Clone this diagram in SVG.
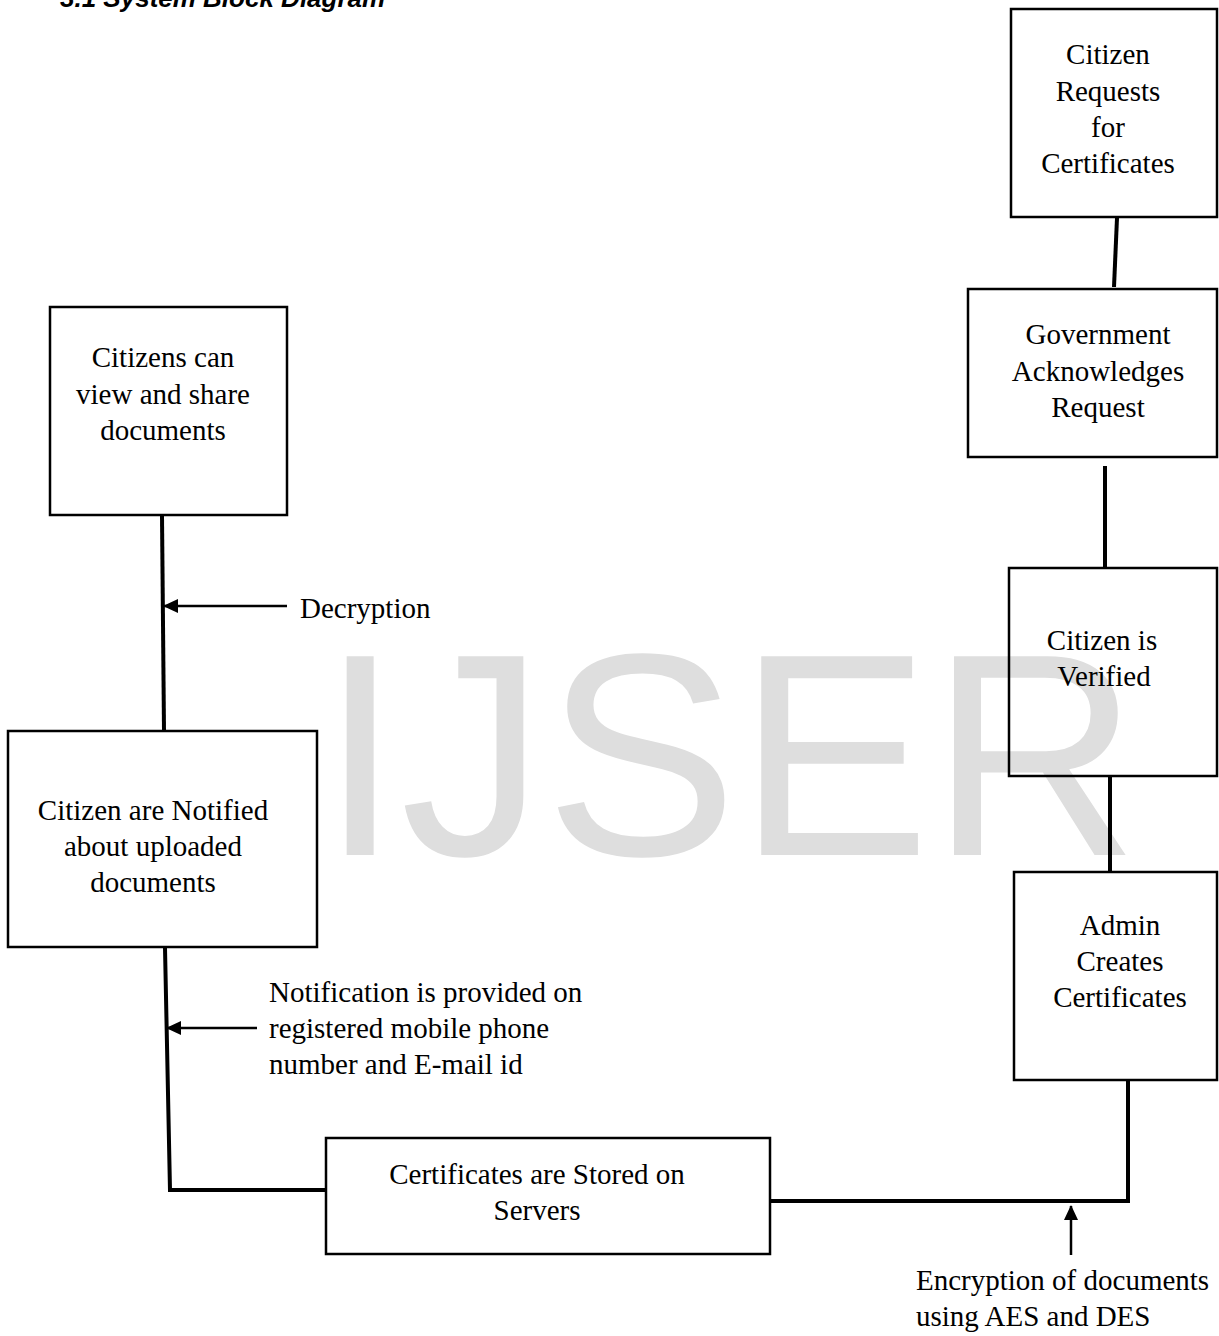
<svg xmlns="http://www.w3.org/2000/svg" width="1219" height="1336" viewBox="0 0 1219 1336">
<defs>
<style>
.box{fill:none;stroke:#000;stroke-width:2.5}
.t{font-family:"Liberation Serif","Times New Roman",serif;font-size:29px;fill:#000;text-anchor:middle}
.l{font-family:"Liberation Serif","Times New Roman",serif;font-size:29px;fill:#000}
.c{fill:none;stroke:#000;stroke-width:4}
.a{fill:none;stroke:#000;stroke-width:2.5}
.wm{font-family:"Liberation Sans",Arial,sans-serif;font-size:289px;fill:#dedede}
.h{font-family:"Liberation Sans",Arial,sans-serif;font-size:26px;font-weight:bold;font-style:italic;fill:#000}
</style>
<marker id="ah" markerWidth="16" markerHeight="14" refX="14" refY="7" orient="auto" markerUnits="userSpaceOnUse">
<path d="M0,0 L15,7 L0,14 Z" fill="#000"/>
</marker>
</defs>
<rect width="1219" height="1336" fill="#fff"/>
<text class="h" x="60" y="7">3.1 System Block Diagram</text>
<text class="wm" x="320" y="855">IJSER</text>

<g id="connectors">
<path class="c" d="M1117,218 L1114,287"/>
<path class="c" d="M1105,466 L1105,568"/>
<path class="c" d="M1110,777 L1110,872"/>
<path class="c" d="M1128,1081 L1128,1201 L770,1201"/>
<path class="c" d="M326,1190 L170,1190 L165,948"/>
<path class="c" d="M164,731 L162,516"/>
<path class="a" d="M287,606 L164,606" marker-end="url(#ah)"/>
<path class="a" d="M257,1028 L167,1028" marker-end="url(#ah)"/>
<path class="a" d="M1071,1255 L1071,1206" marker-end="url(#ah)"/>
</g>

<g id="n1">
<rect class="box" x="1011" y="9" width="206" height="208"/>
<text class="t" x="1108" y="64">Citizen</text>
<text class="t" x="1108" y="101">Requests</text>
<text class="t" x="1108" y="137">for</text>
<text class="t" x="1108" y="173">Certificates</text>
</g>
<g id="n2">
<rect class="box" x="968" y="289" width="249" height="168"/>
<text class="t" x="1098" y="344">Government</text>
<text class="t" x="1098" y="381">Acknowledges</text>
<text class="t" x="1098" y="417">Request</text>
</g>
<g id="n3">
<rect class="box" x="1009" y="568" width="208" height="208"/>
<text class="t" x="1102" y="650">Citizen is</text>
<text class="t" x="1104" y="686">Verified</text>
</g>
<g id="n4">
<rect class="box" x="1014" y="872" width="203" height="208"/>
<text class="t" x="1120" y="935">Admin</text>
<text class="t" x="1120" y="971">Creates</text>
<text class="t" x="1120" y="1007">Certificates</text>
</g>
<g id="n5">
<rect class="box" x="326" y="1138" width="444" height="116"/>
<text class="t" x="537" y="1184">Certificates are Stored on</text>
<text class="t" x="537" y="1220">Servers</text>
</g>
<g id="n6">
<rect class="box" x="8" y="731" width="309" height="216"/>
<text class="t" x="153" y="820">Citizen are Notified</text>
<text class="t" x="153" y="856">about uploaded</text>
<text class="t" x="153" y="892">documents</text>
</g>
<g id="n7">
<rect class="box" x="50" y="307" width="237" height="208"/>
<text class="t" x="163" y="367">Citizens can</text>
<text class="t" x="163" y="404">view and share</text>
<text class="t" x="163" y="440">documents</text>
</g>
<g id="labels">
<text class="l" x="300" y="618">Decryption</text>
<text class="l" x="269" y="1002">Notification is provided on</text>
<text class="l" x="269" y="1038">registered mobile phone</text>
<text class="l" x="269" y="1074">number and E-mail id</text>
<text class="l" x="916" y="1290">Encryption of documents</text>
<text class="l" x="916" y="1326">using AES and DES</text>
</g>
</svg>
